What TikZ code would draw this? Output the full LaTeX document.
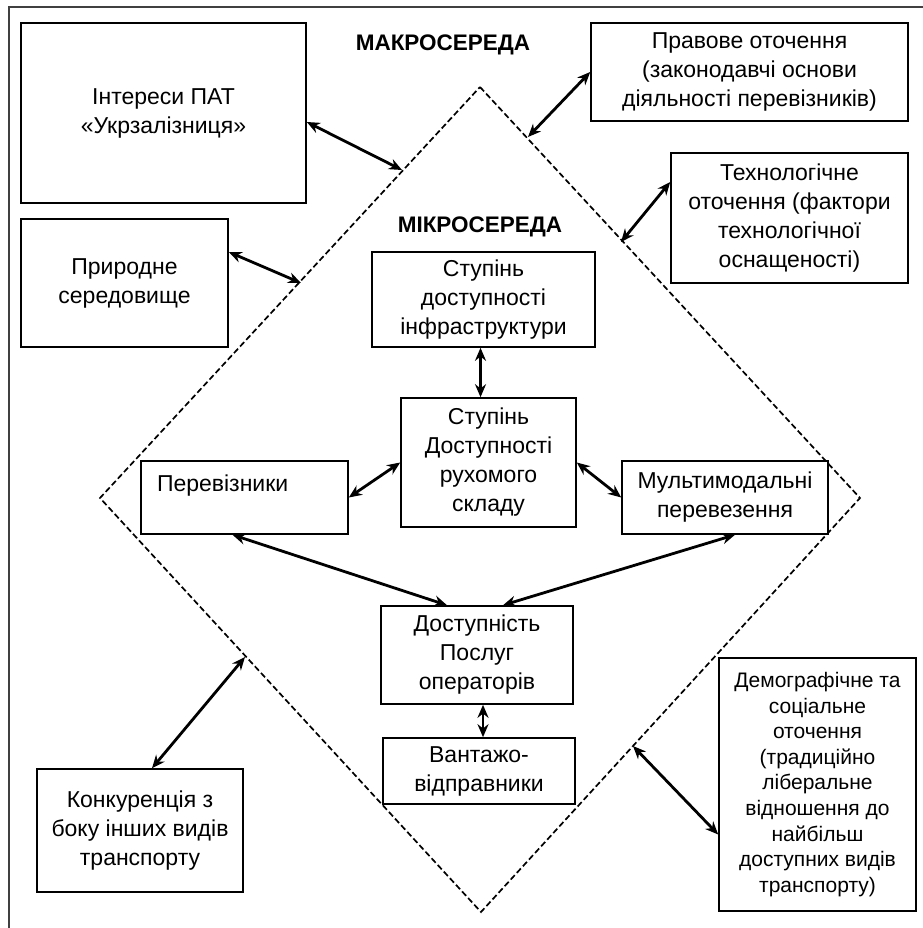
\documentclass[tikz,border=0pt]{standalone}
\usepackage{fontspec}
\setmainfont{Liberation Sans}
\usepackage{tikz}
\usetikzlibrary{positioning,arrows.meta}

\begin{document}
\begin{tikzpicture}[x=1pt,y=-1pt,
  box/.style={draw,line width=1.6pt,inner sep=0pt,align=center,
    font=\fontsize{23}{29}\selectfont},
  arr/.style={{Stealth[length=13pt,width=11pt]}-{Stealth[length=13pt,width=11pt]},line width=2.8pt},
  diam/.style={line width=1.7pt,dash pattern=on 6pt off 3pt},
  head/.style={font=\fontsize{22.5}{26}\selectfont\bfseries}]
\useasboundingbox (0,0) rectangle (922,928);

% frame (open at right and bottom)
\draw[line width=2pt,black!75] (9,940) -- (9,7) -- (940,7);

% diamond
\coordinate (dtop) at (480,87);
\coordinate (dright) at (860,498);
\coordinate (dbot) at (481,912);
\coordinate (dleft) at (100,498);
\draw[diam] (dtop) -- (dright) -- (dbot) -- (dleft) -- cycle;

\node[head] (makro) at (443,45) {МАКРОСЕРЕДА};
\node[head] (mikro) at (480,227) {МІКРОСЕРЕДА};

% outer boxes
\node[box,minimum width=285pt,minimum height=180pt] (int) at (163.5,113) {Інтереси ПАТ\\«Укрзалізниця»};
\node[box,minimum width=207pt,minimum height=128pt] (pri) at (124.5,283) {Природне\\середовище};
\node[box,minimum width=317pt,minimum height=98pt] (prav) at (749.5,72) {Правове оточення\\(законодавчі основи\\діяльності перевізників)};
\node[box,minimum width=237pt,minimum height=130pt] (tech) at (789.5,218) {Технологічне\\оточення (фактори\\технологічної\\оснащеності)};
\node[box,minimum width=206pt,minimum height=123pt] (kon) at (140,830.5) {Конкуренція з\\боку інших видів\\транспорту};
\node[box,minimum width=197pt,minimum height=253pt,font=\fontsize{21}{25.6}\selectfont] (dem) at (817.5,784.5) {Демографічне та\\соціальне\\оточення\\(традиційно\\ліберальне\\відношення до\\найбільш\\доступних видів\\транспорту)};

% inner boxes
\node[box,minimum width=223pt,minimum height=95pt] (infra) at (483.5,299.5) {Ступінь\\доступності\\інфраструктури};
\node[box,minimum width=175pt,minimum height=129pt] (rs) at (488.5,462.5) {Ступінь\\Доступності\\рухомого\\складу};
\node[box,minimum width=207pt,minimum height=73pt,text width=175pt,align=left] (per) at (244.5,497.5) {Перевізники\\\mbox{}};
\node[box,minimum width=206pt,minimum height=73pt] (mm) at (725,497.5) {Мультимодальні\\перевезення};
\node[box,minimum width=192pt,minimum height=98pt] (dost) at (477,655) {Доступність\\Послуг\\операторів};
\node[box,minimum width=192pt,minimum height=66pt] (vant) at (479,771) {Вантажо-\\відправники};

% points on the diamond
\coordinate (d1) at (402,170);
\coordinate (d2) at (301,283);
\coordinate (d3) at (528,137);
\coordinate (d4) at (621,242);
\coordinate (d5) at (245,657);
\coordinate (d6) at (633,746);

\draw[arr] ([yshift=-9pt]int.east) -- (d1);
\draw[arr] ([yshift=31pt]pri.east) -- (d2);
\draw[arr] (d3) -- (prav.west);
\draw[arr] (d4) -- ([yshift=36pt]tech.west);
\draw[arr] (d5) -- ([xshift=12pt]kon.north);
\draw[arr] (d6) -- ([yshift=-50pt]dem.west);

\draw[arr] ([xshift=-3pt]infra.south) -- ([xshift=-3pt]infra.south |- rs.north);
\draw[arr] (per.east) -- (rs.west);
\draw[arr] (rs.east) -- (mm.west);
\draw[arr] ([xshift=-12pt]per.south) -- ([xshift=-30pt]dost.north);
\draw[arr] ([xshift=10pt]mm.south) -- ([xshift=26pt]dost.north);
\draw[arr] ([xshift=6pt]dost.south) -- ([xshift=6pt]dost.south |- vant.north);

\end{tikzpicture}
\end{document}
